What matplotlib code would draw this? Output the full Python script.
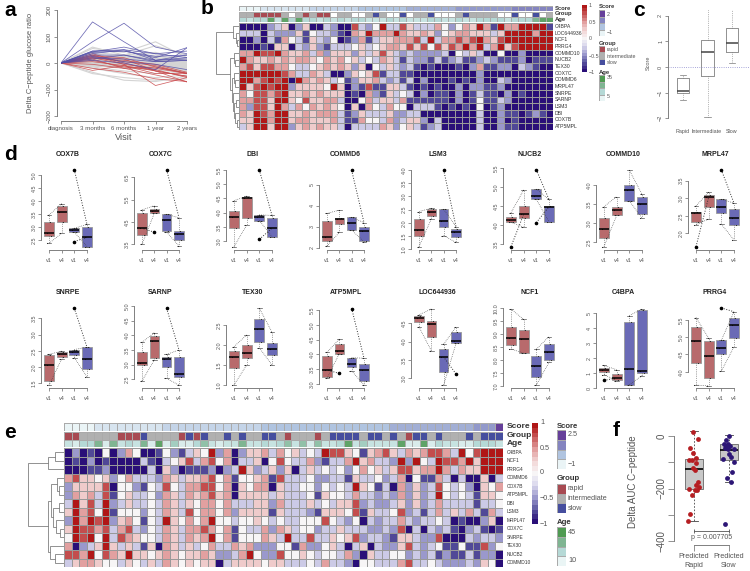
import numpy as np
import matplotlib
matplotlib.use("Agg")
import matplotlib.pyplot as plt
from matplotlib.colors import LinearSegmentedColormap, ListedColormap

plt.rcParams['font.family'] = ['Liberation Sans', 'DejaVu Sans']

W, H = 750, 571

# --------------------
# panel a
VISITS = ['diagnosis', '3 months', '6 months', '1 year', '2 years']
LINES_GREY = [
    [0, 60, 30, 65, 30], [0, 55, 40, 80, 20], [0, 40, 30, 40, 10], [0, 30, 25, 30, 5],
    [0, 25, 20, 15, 0], [0, 20, 10, 10, -5], [0, 15, 5, 5, -10], [0, 10, 0, -5, -15],
    [0, 5, -5, -10, -20], [0, 0, -10, -15, -25], [0, -5, -15, -20, -28], [0, -10, -20, -25, -30],
    [0, -15, -30, -40, -35], [0, -20, -40, -55, -45], [0, -35, -65, -70, -50], [0, -40, -55, -65, -60],
    [0, 35, 20, 25, 15], [0, 28, 15, 18, 8], [0, 22, 12, 2, -8], [0, 12, 8, -2, -12],
    [0, 8, 2, -8, -18], [0, 3, -3, -12, -22], [0, 18, 22, 12, 3], [0, -8, -12, -28, -33],
    [0, 14, 12, 8, 2], [0, 10, 6, 0, -6], [0, 6, 4, -4, -10], [0, 2, -2, -6, -14],
    [0, -2, -6, -10, -18], [0, -6, -9, -14, -24], [0, -12, -14, -18, -26], [0, 16, 8, 3, -2],
    [0, 24, 17, 9, 6], [0, 4, 0, -2, -4], [0, -4, -12, -22, -20], [0, 20, 26, 20, 12],
]
LINES_RED = [
    [0, 30, -5, -85, -55], [0, 25, 15, -30, -50], [0, 15, -20, -45, -70], [0, 28, 20, -15, -40],
    [0, -20, -35, -60, -70], [0, 20, -5, -20, -40], [0, 35, 0, -30, -72], [0, 10, -15, -25, -55],
    [0, 5, -10, -40, -40], [0, 18, 10, -5, -35], [0, 22, 5, -10, -40], [0, -5, -20, -15, -38],
    [0, -28, -10, -30, -50],
]
LINES_BLUE = [
    [0, 155, 80, 10, 30], [0, 80, 150, 60, 35], [0, 45, 50, 10, 15], [0, 42, 60, 35, 45],
    [0, 40, 45, 20, 58], [0, 35, 50, 35, 20], [0, 30, 30, 5, 10], [0, 25, 5, -5, -25],
    [0, 20, 15, 5, 10], [0, 45, 45, 25, 30], [0, 15, 30, 10, 20], [0, 10, 0, -25, 57],
]

# --------------------
# panel b
GENES_B = ['C4BPA', 'LOC644936', 'NCF1', 'PRRG4', 'COMMD10', 'NUCB2', 'TEX30', 'COX7C',
           'COMMD6', 'MRPL47', 'SNRPE', 'SARNP', 'LSM3', 'DBI', 'COX7B', 'ATP5MPL']
# one digit per cell, 0 = -1 ... 4 = 0 ... 8 = +1
HEAT_B = [
    '00002 35025 00320 07324 83375 33364 2465 86186 68888 1',
    '33303 22251 43321 06586 66865 56524 5665 55358 88868 8',
    '00203 16431 53240 12613 55666 73836 6767 86578 88888 8',
    '00010 55032 52133 34534 56657 57475 7686 83685 78888 8',
    '66877 86556 36255 52535 75323 22223 0435 30040 02000 0',
    '86556 56566 54656 45343 65313 22131 2311 23211 12011 1',
    '67577 66433 45656 52504 35323 10100 0102 61122 03210 0',
    '88888 87633 65300 25457 13311 00000 0000 20000 00000 0',
    '88678 78086 56534 12556 32313 02000 1010 20032 00000 0',
    '85787 88255 55485 02171 15531 01010 0202 21120 00000 0',
    '64776 78556 56555 01062 15343 02011 0201 31102 01000 0',
    '66775 88547 55663 00463 55361 11111 0201 41132 00000 0',
    '62775 86364 65654 05064 36440 33310 1010 40120 00000 0',
    '65876 88556 56663 12533 35223 30000 0000 30021 10121 0',
    '55886 88566 55563 11644 36235 52030 0000 30020 10000 0',
    '35885 88256 56553 03333 65245 31230 0000 30021 10000 0',
]
SCORE_B = '00011 11111 22222 22333 33334 44444 45555 55556 66666'
GROUP_B = 'GGRRR RGWGR GRRWG GWWGS GWWSW GGSWW WGSG GGGWW SWWSW G'
AGE_B = '32338 28383 32323 23322 23232 22332 2322 33332 33368 8'

# --------------------
# panel c
SCORE_LABELS = ['Rapid', 'Intermediate', 'Slow']
SCORE_STATS = [[-1.3, -1.03, -0.93, -0.43, -0.33],
               [-1.95, -0.37, 0.57, 1.05, 2.3],
               [0.17, 0.57, 0.92, 1.53, 2.3]]

# --------------------
# panel d: whisker low, q1, median, q3, whisker high for v1 v4 v1 v4
STATS_D = {
    'COX7B': [[2.37, 2.67, 2.76, 3.2, 3.46], [2.76, 3.2, 3.59, 3.8, 3.9], [2.8, 2.8, 2.88, 2.95, 2.95], [2.25, 2.25, 2.6, 3.0, 3.1]],
    'COX7C': [[3.5, 3.92, 4.22, 4.92, 5.04], [4.89, 4.89, 5.0, 5.07, 5.23], [4.04, 4.11, 4.61, 4.84, 4.84], [3.43, 3.69, 3.95, 4.1, 4.69]],
    'DBI': [[2.8, 3.47, 3.83, 4.07, 4.42], [3.56, 3.82, 4.53, 4.56, 4.58], [3.72, 3.72, 3.86, 3.92, 3.92], [3.15, 3.15, 3.45, 3.8, 3.9]],
    'COMMD6': [[2.08, 2.33, 2.53, 3.27, 3.64], [2.73, 3.14, 3.37, 3.4, 3.8], [2.84, 2.84, 3.2, 3.45, 3.45], [2.29, 2.33, 2.81, 2.97, 3.2]],
    'LSM3': [[1.1, 1.52, 1.73, 2.13, 2.43], [2.15, 2.27, 2.4, 2.52, 2.55], [1.52, 1.83, 2.07, 2.51, 2.51], [1.26, 1.45, 1.64, 1.75, 1.86]],
    'NUCB2': [[4.08, 4.08, 4.13, 4.21, 4.33], [3.95, 4.19, 4.29, 4.51, 4.93], [4.68, 4.68, 4.77, 4.95, 4.95], [4.1, 4.1, 4.49, 4.51, 4.68]],
    'COMMD10': [[2.39, 2.6, 2.85, 3.13, 3.43], [3.2, 3.2, 3.33, 3.41, 3.69], [3.58, 3.58, 3.87, 4.0, 4.38], [3.13, 3.24, 3.51, 3.67, 3.75]],
    'MRPL47': [[2.24, 2.33, 2.59, 2.62, 2.78], [2.41, 2.74, 3.03, 3.1, 3.17], [2.26, 2.59, 2.76, 2.97, 2.97], [1.81, 2.24, 2.43, 2.7, 2.86]],
    'SNRPE': [[1.44, 1.57, 2.05, 2.37, 2.39], [2.25, 2.32, 2.41, 2.45, 2.49], [2.29, 2.37, 2.47, 2.54, 2.54], [1.7, 1.95, 2.26, 2.61, 2.61]],
    'SARNP': [[2.44, 2.99, 3.05, 3.42, 3.76], [3.16, 3.24, 3.8, 3.99, 4.09], [2.53, 2.92, 3.2, 3.27, 3.35], [2.3, 2.59, 2.69, 3.27, 3.5]],
    'TEX30': [[1.0, 1.43, 1.7, 1.84, 1.96], [1.5, 1.68, 1.79, 2.0, 2.25], [1.93, 2.08, 2.39, 2.65, 2.92], [1.5, 1.75, 1.91, 2.04, 2.32]],
    'ATP5MPL': [[3.19, 3.25, 3.47, 3.94, 4.07], [4.03, 4.03, 4.12, 4.34, 4.52], [3.44, 3.57, 3.67, 3.89, 3.89], [2.97, 3.1, 3.47, 3.69, 3.87]],
    'LOC644936': [[4.4, 4.53, 4.65, 4.7, 4.73], [3.75, 4.12, 4.49, 4.55, 4.89], [2.82, 3.17, 3.58, 3.8, 3.93], [3.95, 3.95, 4.02, 4.25, 4.4]],
    'NCF1': [[8.43, 8.6, 8.87, 9.29, 9.97], [8.27, 8.27, 8.83, 9.15, 9.57], [7.04, 7.33, 7.76, 8.15, 8.42], [7.91, 8.0, 8.32, 8.64, 8.91]],
    'C4BPA': [[0.89, 1.07, 1.2, 1.33, 1.51], [0.49, 0.56, 0.67, 0.93, 1.22], [0.22, 0.22, 1.27, 4.44, 4.84], [0.82, 0.98, 1.16, 5.24, 5.29]],
    'PRRG4': [[3.61, 4.26, 4.89, 5.29, 5.57], [3.59, 3.83, 4.45, 4.89, 4.97], [4.02, 4.5, 4.7, 4.91, 4.91], [4.72, 4.98, 5.35, 5.57, 5.74]],
}
# (box index, value)
FLIERS_D = {
    'COX7B': [(2, 5.2), (2, 2.44)], 'COX7C': [(2, 6.83), (1, 4.04)], 'DBI': [(2, 5.5), (2, 3.06)],
    'COMMD6': [(2, 5.7)], 'LSM3': [(2, 4.0)], 'NUCB2': [(0, 3.44), (2, 5.46), (2, 4.07)],
    'COMMD10': [], 'MRPL47': [(0, 1.62), (2, 3.81)], 'SNRPE': [(2, 3.81)], 'SARNP': [(2, 4.92)],
    'TEX30': [], 'ATP5MPL': [(2, 5.55), (1, 3.36)], 'LOC644936': [(3, 3.12)], 'NCF1': [],
    'C4BPA': [(0, 0.51)], 'PRRG4': [(2, 5.85)],
}
YTICKS_D = {
    'COX7B': [2.5, 3.0, 3.5, 4.0, 4.5, 5.0], 'COX7C': [3.5, 4.5, 5.5, 6.5], 'DBI': [3.0, 3.5, 4.0, 4.5, 5.0, 5.5],
    'COMMD6': [2, 3, 4, 5], 'LSM3': [1.0, 1.5, 2.0, 2.5, 3.0, 3.5, 4.0], 'NUCB2': [3.5, 4.0, 4.5, 5.0, 5.5],
    'COMMD10': [2.5, 3.0, 3.5, 4.0], 'MRPL47': [2.0, 2.5, 3.0, 3.5], 'SNRPE': [1.5, 2.0, 2.5, 3.0, 3.5],
    'SARNP': [2.5, 3.0, 3.5, 4.0, 4.5, 5.0], 'TEX30': [1.0, 1.5, 2.0, 2.5], 'ATP5MPL': [3.0, 3.5, 4.0, 4.5, 5.0, 5.5],
    'LOC644936': [3.0, 3.5, 4.0, 4.5], 'NCF1': [7.0, 7.5, 8.0, 8.5, 9.0, 9.5, 10.0], 'C4BPA': [0, 1, 2, 3, 4, 5],
    'PRRG4': [4.0, 4.5, 5.0, 5.5],
}
# pixel placement: first tick x, last tick x, y of lowest tick, y of highest tick
PLACE_D = {
    'COX7B': (49, 87, 240, 175), 'COX7C': (142, 179, 244.3, 177.3), 'DBI': (234, 272, 241, 170),
    'COMMD6': (327, 364, 247.7, 185), 'LSM3': (419, 456, 249.3, 170), 'NUCB2': (511, 549, 244.3, 168.3),
    'COMMD10': (604, 642, 242.3, 184.7), 'MRPL47': (696, 734, 233.3, 180.7),
    'SNRPE': (49, 87, 383.3, 318.3), 'SARNP': (142, 179, 379.3, 306), 'TEX30': (234, 272, 385, 325),
    'ATP5MPL': (327, 364, 384, 310), 'LOC644936': (419, 456, 378.3, 323.3), 'NCF1': (511, 549, 386, 308.3),
    'C4BPA': (604, 642, 388.3, 313.3), 'PRRG4': (696, 734, 371.7, 320),
}
ROW1_D = ['COX7B', 'COX7C', 'DBI', 'COMMD6', 'LSM3', 'NUCB2', 'COMMD10', 'MRPL47']
ROW2_D = ['SNRPE', 'SARNP', 'TEX30', 'ATP5MPL', 'LOC644936', 'NCF1', 'C4BPA', 'PRRG4']

# --------------------
# panel e
GENES_E = ['C4BPA', 'NCF1', 'PRRG4', 'COMMD6', 'COX7B', 'ATP5MPL', 'DBI', 'LSM3',
           'MRPL47', 'COX7C', 'SNRPE', 'TEX30', 'NUCB2', 'COMMD10']
HEAT_E = [
    '02010 40264 00142 13548 26025 56364 5 34387 75415 67536 56776 38478 88',
    '01020 10000 31034 57367 46033 50474 3 36213 36856 33282 84387 76858 88',
    '00011 20000 03052 01112 02385 23525 0 35343 42464 53577 56686 36558 88',
    '67554 52463 33265 35567 46144 56173 3 34223 31533 42360 41163 03005 03',
    '25555 70442 14374 36677 46054 66053 3 44243 43854 13062 52374 34205 46',
    '26563 71453 34265 36567 56055 55353 3 34154 43633 23262 52384 34315 54',
    '38573 82353 34365 35466 46333 55263 3 35343 55723 22352 52363 33313 34',
    '58674 81444 24365 37466 46255 55153 3 32155 54715 33472 31363 53631 63',
    '28687 82564 14385 46468 44344 54343 3 44474 32403 23363 23343 01002 50',
    '58776 73673 24365 36676 46143 36265 3 44233 53332 23270 30323 10231 01',
    '48784 83765 44365 36568 46144 46538 3 37335 45723 32155 32270 00323 32',
    '60235 85353 15065 35346 33656 22244 1 62245 30350 32257 32341 14117 24',
    '77684 76585 54565 45565 22368 42274 4 54344 36205 33442 32312 11312 20',
    '35665 44354 35365 45455 03555 54553 3 34363 32044 33367 33432 22325 40',
]
SCORE_E = '00001 11111 11122 22222 22222 23333 33333 33333 33344 44444 44445 559'
GROUP_E = 'RRGGG GGRRR SGGGG RSRSG GSGSG GSSGR G GGRGS SSSGS SGSGR SSGSG GGSGS SS'
AGE_E = '21336 16232 61814 11352 12262 23235 2 51522 38242 22281 18132 21133 32'

# --------------------
# panel f: value plus horizontal offset within the group
RAPID_VALUES = [16, -10, -47, -65, -82, -92, -92, -101, -120, -128, -175, -187, -196, -204, -203, -204, -226, -296, -323]
RAPID_OFFSETS = [-0.03, 0.12, -0.11, -0.02, 0.07, -0.13, -0.05, 0.07, -0.03, 0.02, 0.11, 0.07, 0.15, 0.03, -0.15, 0.09, -0.06, -0.11, -0.16]
SLOW_VALUES = [0, -16, -29, -29, -37, -39, -44, -48, -51, -70, -80, -89, -99, -137, -160, -176, -335]
SLOW_OFFSETS = [0.0, -0.08, -0.13, -0.04, -0.08, 0.02, -0.12, -0.04, 0.14, 0.0, 0.06, -0.16, 0.15, 0.08, -0.06, 0.07, -0.11]
AUC_STATS = [[-323, -200, -125, -86, 18], [-176, -92, -52, -29, 5]]
AUC_LABELS = ['Predicted\nRapid', 'Predicted\nSlow']

# dendrograms: (height, upper child, lower child), integers are row numbers
TREE_B = (1.0, (.26, 0, (.15, 1, (.1, 2, 3))),
          (.4, (.22, 4, (.16, 5, 6)),
           (.32, (.22, 7, (.18, 8, 9)), (.25, 10, (.22, (.15, 11, 12), (.18, 13, (.1, 14, 15)))))))
TREE_E = (1.0, (.45, (.25, 0, 1), 2),
          (.45, (.36, (.2, 3, (.14, 4, 5)), (.3, (.15, 6, 7), (.22, 8, (.12, 9, 10)))),
           (.4, 11, (.25, 12, 13))))

# --------------------
# colours
GREY_TXT = '#555555'
AXIS_GREY = '#808080'
HEAT = LinearSegmentedColormap.from_list(
    'heat', ['#2a0f78', '#5a569f', '#9a98cc', '#d8d6ec', '#f7f5f6', '#f2d6d6', '#e2a0a0', '#c85a5a', '#b01717'], N=21)
SCORE_CMAP = LinearSegmentedColormap.from_list('score', ['#eaf4f6', '#b0c4e0', '#8484c0', '#66409a'])
AGE_CMAP = LinearSegmentedColormap.from_list('age', ['#eaf5f5', '#b5d9d6', '#7fb592', '#4f9a52'])
GROUP_COLORS = {'W': '#ffffff', 'R': '#a84a52', 'G': '#b0b0b0', 'S': '#464e9e'}
RED_BOX = '#b86a6c'
BLUE_BOX = '#6a6ab6'

fig = plt.figure(figsize=(W / 100, H / 100), dpi=100)


def px_axes(x0, y0, x1, y1):
    return fig.add_axes([x0 / W, 1 - y1 / H, (x1 - x0) / W, (y1 - y0) / H])


def px_text(x, y, s, **kw):
    kw.setdefault('va', 'center')
    kw.setdefault('color', '#333333')
    fig.text(x / W, 1 - y / H, s, **kw)


def digits(s):
    return [int(c) for c in s.replace(' ', '')]


def draw_track(box, values, cmap, vmax=9):
    ax = px_axes(*box)
    ax.pcolormesh(np.array([values]), cmap=cmap, vmin=0, vmax=vmax, edgecolors='#aaaaaa', linewidth=0.4)
    ax.axis('off')


def group_track(box, s):
    names = list(GROUP_COLORS)
    values = [names.index(c) for c in s.replace(' ', '')]
    draw_track(box, values, ListedColormap(list(GROUP_COLORS.values())), vmax=3)


def draw_heat(box, rows):
    data = (np.array([digits(r) for r in rows]) - 4) / 4
    ax = px_axes(*box)
    ax.pcolormesh(data, cmap=HEAT, vmin=-1, vmax=1, edgecolors='#999999', linewidth=0.4)
    ax.invert_yaxis()
    ax.axis('off')


def draw_tree(ax, node):
    if isinstance(node, int):
        return node + 0.5, 0
    height, upper, lower = node
    y0, h0 = draw_tree(ax, upper)
    y1, h1 = draw_tree(ax, lower)
    ax.plot([h0, height, height, h1], [y0, y0, y1, y1], color='#808080', lw=0.6, solid_joinstyle='miter')
    return (y0 + y1) / 2, height


def dendrogram(box, tree, nrows):
    ax = px_axes(*box)
    draw_tree(ax, tree)
    ax.set_xlim(1, 0)
    ax.set_ylim(nrows, 0)
    ax.axis('off')


def colorbar(box):
    ax = px_axes(*box)
    ax.imshow(np.linspace(1, -1, 21)[:, None], cmap=HEAT, vmin=-1, vmax=1, aspect='auto')
    ax.axis('off')


def steps(box, colors):
    ax = px_axes(*box)
    ax.pcolormesh(np.arange(len(colors))[:, None], cmap=ListedColormap(colors),
                  edgecolors='#aaaaaa', linewidth=0.5)
    ax.invert_yaxis()
    ax.axis('off')


def r_axis(ax, size=4.2):
    for side in ['top', 'right']:
        ax.spines[side].set_visible(False)
    for side in ['left', 'bottom']:
        ax.spines[side].set_color(AXIS_GREY)
        ax.spines[side].set_linewidth(0.7)
    ax.tick_params(length=2, width=0.6, color=AXIS_GREY, labelsize=size, labelcolor=GREY_TXT, pad=1.5)
    ax.patch.set_visible(False)


# --------------------
# a
ax = px_axes(61, 10, 187, 116)
for vals in LINES_GREY:
    ax.plot(range(5), vals, color='#d4d4d4', lw=0.8)
for vals in LINES_RED:
    ax.plot(range(5), vals, color='#c9474a', lw=0.55, alpha=0.85)
for vals in LINES_BLUE:
    ax.plot(range(5), vals, color='#5450a8', lw=0.55, alpha=0.85)
ax.set_xlim(0, 4)
ax.set_ylim(-200, 200)
r_axis(ax, 4.4)
ax.spines['left'].set_position(('outward', 3))
ax.spines['bottom'].set_position(('outward', 3.6))
ax.set_xticks(range(5), VISITS)
ax.set_yticks([-200, -100, 0, 100, 200], ['\u2212200', '\u2212100', '0', '100', '200'],
              rotation=90, va='center')
px_text(31, 63, 'Delta C\u2212peptide glucose ratio', rotation=90, ha='center', fontsize=5.4, color=GREY_TXT)
px_text(124, 137, 'Visit', ha='center', fontsize=6.6, color=GREY_TXT)

# --------------------
# b
draw_track((239, 6, 553, 11), digits(SCORE_B), SCORE_CMAP)
group_track((239, 11.5, 553, 16.5), GROUP_B)
draw_track((239, 17, 553, 22), digits(AGE_B), AGE_CMAP)
draw_heat((239, 23, 553, 130), HEAT_B)
dendrogram((216, 23, 239, 130), TREE_B, len(GENES_B))
row_h = (130 - 23) / len(GENES_B)
for i, gene in enumerate(GENES_B):
    px_text(555, 23 + (i + 0.5) * row_h, gene, fontsize=3.7)
for y, name in zip([8, 14, 20], ['Score', 'Group', 'Age']):
    px_text(555, y, name, fontsize=4.2, fontweight='bold')
colorbar((582, 5, 587, 72))
for y, s in zip([5.5, 22, 39, 56, 72], ['1', '0.5', '0', '\u22120.5', '\u22121']):
    px_text(589, y, s, fontsize=3.8, color=GREY_TXT)
px_text(599, 7, 'Score', fontsize=4.2, fontweight='bold')
steps((599, 10, 605, 36), ['#66409a', '#8484c0', '#b0c4e0', '#eaf4f6'])
px_text(607, 14, '2', fontsize=3.8, color=GREY_TXT)
px_text(607, 33, '\u22121', fontsize=3.8, color=GREY_TXT)
px_text(599, 43, 'Group', fontsize=4.2, fontweight='bold')
steps((599, 46, 605, 65), ['#a84a52', '#b0b0b0', '#464e9e'])
for y, s in zip([49, 56, 62], ['rapid', 'intermediate', 'slow']):
    px_text(607, y, s, fontsize=3.8, color=GREY_TXT)
px_text(599, 72, 'Age', fontsize=4.2, fontweight='bold')
steps((599, 75, 605, 101), ['#4f9a52', '#7fb592', '#b5d9d6', '#eaf5f5'])
px_text(607, 78, '35', fontsize=3.8, color=GREY_TXT)
px_text(607, 97, '5', fontsize=3.8, color=GREY_TXT)

# --------------------
# c
ax = px_axes(668, 10, 750, 125)
stats = [dict(whislo=s[0], q1=s[1], med=s[2], q3=s[3], whishi=s[4], fliers=[]) for s in SCORE_STATS]
ax.bxp(stats, positions=[1, 2, 3], widths=0.49, showfliers=False,
       boxprops=dict(color='#909090', lw=0.7), medianprops=dict(color='#444444', lw=1.1),
       whiskerprops=dict(color='#777777', lw=0.5, ls=':'), capprops=dict(color='#777777', lw=0.5))
ax.axhline(0, color='#8a88cc', lw=0.6, ls=':')
ax.set_xlim(1 - 15 / 24.5, 1 + 67 / 24.5)
ax.set_ylim(-2 - 7 / 26, 2 + 6 / 26)
r_axis(ax, 4)
ax.spines['bottom'].set_visible(False)
ax.spines['left'].set_bounds(-2, 2)
ax.tick_params(axis='x', length=0)
ax.set_xticks([])
ax.set_yticks([-2, -1, 0, 1, 2], ['\u22122', '\u22121', '0', '1', '2'], rotation=90, va='center')
for pos, label in zip([683, 707, 732], SCORE_LABELS):
    px_text(pos, 131, label, ha='center', fontsize=3.9, color=GREY_TXT)
px_text(648, 63, 'Score', rotation=90, ha='center', fontsize=4, color=GREY_TXT)

# --------------------
# d
JITTER = [-0.12, 0.14, -0.18, 0.1, -0.05]


def gene_panel(gene, axis_y, title_y):
    x0, x1, y_lo, y_hi = PLACE_D[gene]
    ticks = YTICKS_D[gene]
    slope = (ticks[-1] - ticks[0]) / (y_lo - y_hi)
    top = y_hi - 20
    ax = px_axes(x0, top, x1, axis_y)
    ax.set_xlim(0, 3)
    ax.set_ylim(ticks[0] - (axis_y - y_lo) * slope, ticks[-1] + (y_hi - top) * slope)
    boxes = STATS_D[gene]
    stats = [dict(whislo=s[0], q1=s[1], med=s[2], q3=s[3], whishi=s[4], fliers=[]) for s in boxes]
    bp = ax.bxp(stats, positions=[0, 1, 2, 3], widths=0.78, showfliers=False, patch_artist=True,
                boxprops=dict(edgecolor='#999999', lw=0.6), medianprops=dict(color='black', lw=1.1),
                whiskerprops=dict(color='#555555', lw=0.5, ls=':'), capprops=dict(color='#555555', lw=0.5),
                manage_ticks=False)
    for patch, col in zip(bp['boxes'], [RED_BOX, RED_BOX, BLUE_BOX, BLUE_BOX]):
        patch.set_facecolor(col)
    for artists in bp.values():
        for art in artists:
            art.set_clip_on(False)
    # paired samples
    for a, b in [(0, 1), (2, 3)]:
        for k in [0, 4]:
            ax.plot([a, b], [boxes[a][k], boxes[b][k]], color='#444444', lw=0.5, ls=':', clip_on=False)
    for pos, s in enumerate(boxes):
        ax.plot([pos + j for j in JITTER], s, ls='none', marker='o', ms=0.8, mfc='#222222', mec='none', clip_on=False)
    for pos, val in FLIERS_D[gene]:
        partner = pos + 1 if pos % 2 == 0 else pos - 1
        end = boxes[partner][4] if val > boxes[partner][4] else boxes[partner][2]
        ax.plot([pos, partner], [val, end], color='#333333', lw=0.7, ls=':', clip_on=False)
        ax.plot(pos, val, ls='none', marker='o', ms=1.6, color='black', clip_on=False)
    r_axis(ax, 3.9)
    ax.spines['left'].set_position(('outward', 5.5))
    ax.spines['left'].set_bounds(ticks[0], ticks[-1])
    ax.spines['bottom'].set_bounds(0, 3)
    ax.set_xticks([0, 1, 2, 3], ['v1', 'v4', 'v1', 'v4'])
    ax.set_yticks(ticks, [str(t) for t in ticks], rotation=90, va='center')
    ax.tick_params(axis='x', direction='out', pad=3.5)
    px_text((x0 + x1) / 2, title_y, gene, ha='center', fontsize=5, fontweight='bold', color='#222222')
    return ax


for gene in ROW1_D:
    gene_panel(gene, 250, 155)
for gene in ROW2_D:
    gene_panel(gene, 388, 293)

# --------------------
# e
draw_track((64, 423, 503, 431), digits(SCORE_E), SCORE_CMAP)
group_track((64, 432, 503, 439.5), GROUP_E)
draw_track((64, 440, 503, 447), digits(AGE_E), AGE_CMAP)
draw_heat((64, 448, 503, 567), HEAT_E)
dendrogram((28, 448, 64, 567), TREE_E, len(GENES_E))
row_h = (567 - 448) / len(GENES_E)
for i, gene in enumerate(GENES_E):
    px_text(507, 448 + (i + 0.5) * row_h, gene, fontsize=3.5)
for y, name in zip([427, 435.5, 443.5], ['Score', 'Group', 'Age']):
    px_text(507, y, name, fontsize=6, fontweight='bold')
colorbar((532, 423, 538, 524))
for y, s in zip([423, 448, 473, 499, 524], ['1', '0.5', '0', '\u22120.5', '\u22121']):
    px_text(540, y, s, fontsize=5.2, color=GREY_TXT)
px_text(557, 426, 'Score', fontsize=5.6, fontweight='bold')
steps((557, 430, 566, 469), ['#66409a', '#8484c0', '#b0c4e0', '#eaf4f6'])
px_text(568, 435, '2.5', fontsize=5.2, color=GREY_TXT)
px_text(568, 464, '\u22121', fontsize=5.2, color=GREY_TXT)
px_text(557, 479, 'Group', fontsize=5.6, fontweight='bold')
steps((557, 484, 566, 513), ['#a84a52', '#b0b0b0', '#464e9e'])
for y, s in zip([489, 498, 508], ['rapid', 'intermediate', 'slow']):
    px_text(568, y, s, fontsize=5.2, color=GREY_TXT)
px_text(557, 523, 'Age', fontsize=5.6, fontweight='bold')
steps((557, 527, 566, 566), ['#4f9a52', '#7fb592', '#b5d9d6', '#eaf5f5'])
px_text(568, 532, '45', fontsize=5.2, color=GREY_TXT)
px_text(568, 561, '10', fontsize=5.2, color=GREY_TXT)

# --------------------
# f
ax = px_axes(674, 425, 750, 541)
stats = [dict(whislo=s[0], q1=s[1], med=s[2], q3=s[3], whishi=s[4], fliers=[]) for s in AUC_STATS]
bp = ax.bxp(stats, positions=[0, 1], widths=0.5, showfliers=False, patch_artist=True,
            boxprops=dict(facecolor='#c8c8c8', edgecolor='#666666', lw=0.6),
            medianprops=dict(color='black', lw=1.2),
            whiskerprops=dict(color='#444444', lw=0.6, ls=(0, (2, 2))), capprops=dict(color='#444444', lw=0.6),
            manage_ticks=False)
ax.scatter(RAPID_OFFSETS, RAPID_VALUES, s=12, color='#b51e22', zorder=3, clip_on=False, linewidths=0)
ax.scatter(1 + np.array(SLOW_OFFSETS), SLOW_VALUES, s=12, color='#2d1676', zorder=3, clip_on=False, linewidths=0)
ax.set_xlim(-20 / 35, 56 / 35)
ax.set_ylim(-400, 42)
r_axis(ax, 7)
ax.spines['bottom'].set_position(('outward', 3))
ax.spines['bottom'].set_bounds(0, 1)
ax.spines['left'].set_bounds(-400, 0)
ax.set_xticks([0, 1], AUC_LABELS, fontsize=5.2, linespacing=1.25)
ax.set_yticks([-400, -300, -200, -100, 0], ['\u2212400', '', '\u2212200', '', '0'], rotation=90, va='center')
ax.tick_params(axis='x', length=4, pad=2)
ax.tick_params(axis='y', length=4)
ax.plot([0, 1], [-361, -361], color='#555555', lw=0.6, marker='|', ms=3, mew=0.6, clip_on=False)
ax.text(0.5, -385, 'p = 0.007705', ha='center', va='center', fontsize=5, color=GREY_TXT, clip_on=False)
px_text(633, 482, 'Delta AUC C\u2212peptide', rotation=90, ha='center', fontsize=7, color=GREY_TXT)

# panel letters
for x, y, letter in [(4, 10, 'a'), (201, 9, 'b'), (633, 10, 'c'), (4, 155, 'd'), (4, 433, 'e'), (613, 431, 'f')]:
    px_text(x, y, letter, fontsize=15, fontweight='bold', color='black')

fig.savefig('out.png', dpi=100)
